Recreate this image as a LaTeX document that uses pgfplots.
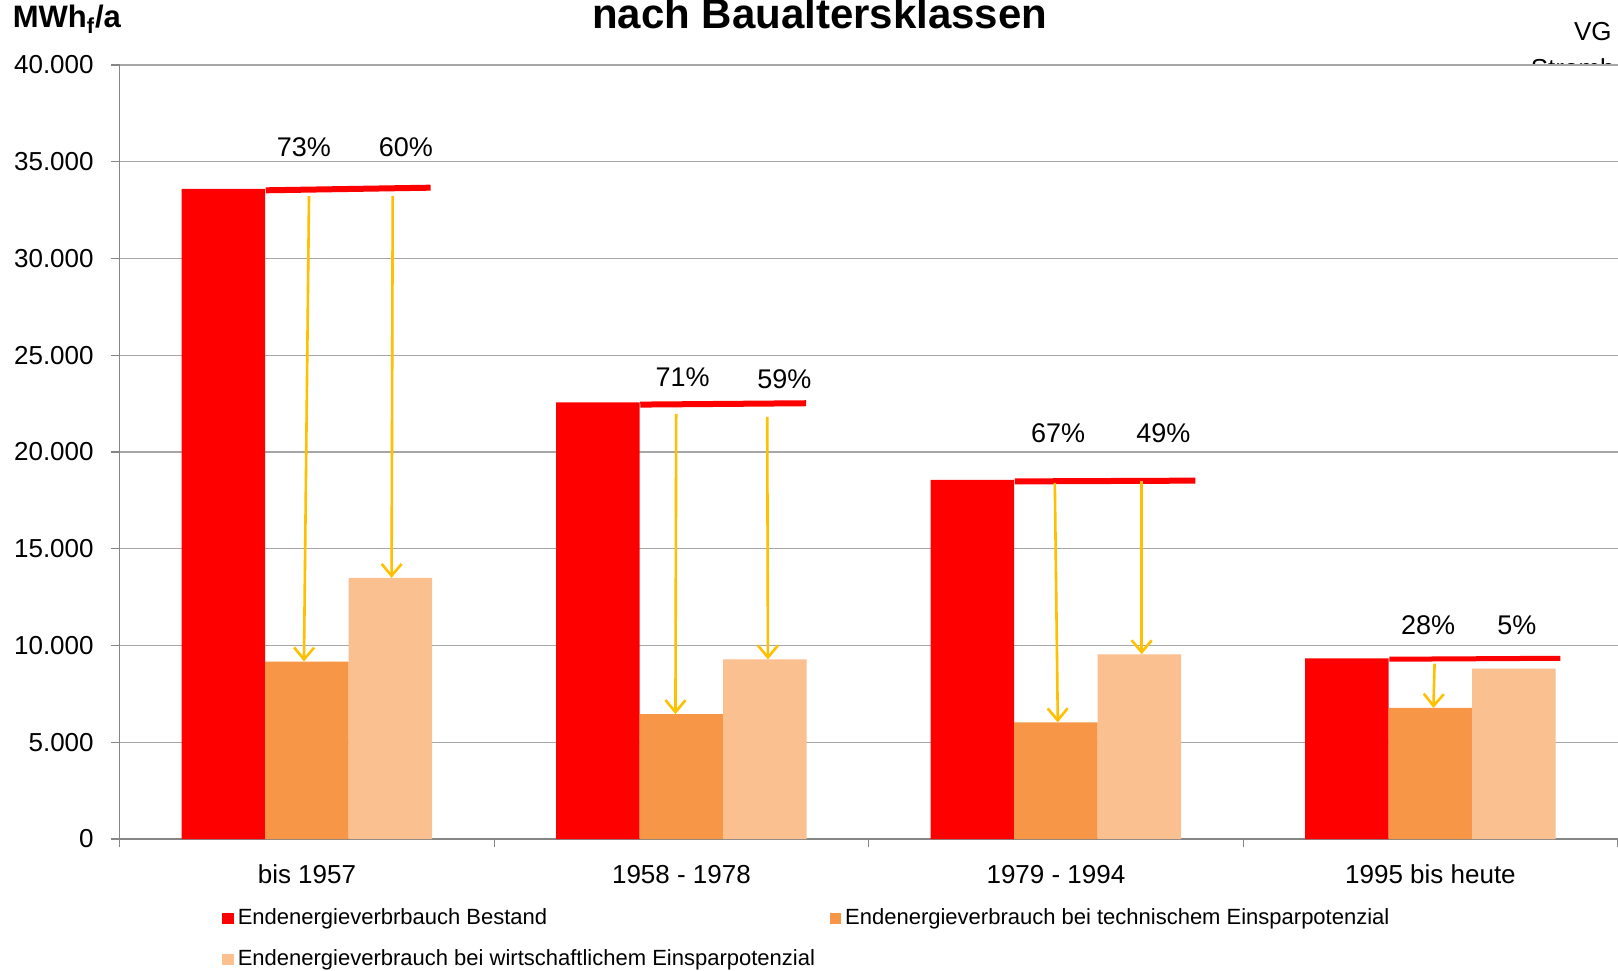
\documentclass[border=0pt]{standalone}
\usepackage{pgfplots}
\pgfplotsset{compat=1.18}
\usepackage{fontspec}
\setmainfont{Liberation Sans}
\usetikzlibrary{arrows.meta}
\definecolor{bestand}{HTML}{FF0000}
\definecolor{tech}{HTML}{F79646}
\definecolor{wirt}{HTML}{FAC090}
\definecolor{arrowy}{HTML}{FFC000}
\definecolor{gridc}{HTML}{A6A6A6}
\definecolor{axc}{HTML}{868686}
\newcommand{\fs}[1]{\fontsize{#1}{#1}\selectfont}
\begin{document}
\begin{tikzpicture}
\path[use as bounding box] (-59.85pt,-65.5pt) rectangle (749.15pt,419.5pt);
\node[anchor=base, font=\fs{13}] at (736.6pt,399pt) {VG};
\node[anchor=base west, font=\fs{13}] at (702pt,380.8pt) {Stromberg};
\begin{axis}[
  at={(0,0)}, anchor=south west,
  scale only axis, width=749pt, height=387pt,
  xmin=-0.5, xmax=3.5, ymin=0, ymax=40000,
  axis background/.style={fill=white},
  axis x line*=bottom, axis y line*=left,
  axis line style={draw=axc, line width=0.6pt},
  ytick={0,5000,...,40000},
  ymajorgrids, grid style={draw=gridc, line width=0.6pt},
  tick align=outside, major tick length=4.5pt,
  ytick style={draw=axc, line width=0.6pt},
  /pgf/number format/assume math mode=true,
  yticklabel style={/pgf/number format/.cd, fixed, 1000 sep={.}, /tikz/.cd, font=\fs{13}, xshift=-5pt},
  scaled y ticks=false,
  xtick={0,1,2,3},
  xticklabels={bis 1957, 1958 - 1978, 1979 - 1994, 1995 bis heute},
  xtick style={draw=none},
  xticklabel style={font=\fs{13}, yshift=-5pt},
  extra x ticks={-0.5,0.5,1.5,2.5,3.5},
  extra x tick labels={},
  extra x tick style={xtick style={draw=axc, line width=0.6pt}, major tick length=4pt, grid=none},
  legend columns=2,
  legend cell align=left,
  legend style={draw=none, fill=none, at={(axis description cs:0.0683,-0.0847)}, anchor=north west,
    font=\fs{11}, row sep=7pt, column sep=0pt, inner sep=0pt},
  legend image code/.code={\fill[#1] (0pt,-2.9pt) rectangle (5.7pt,2.9pt);},
]
\addplot[ybar, bar width=0.223, bar shift=-0.223, fill=bestand, draw=none]
  coordinates {(0,33600) (1,22560) (2,18560) (3,9333)};
\addlegendentry{\makebox[294pt][l]{Endenergieverbrbauch Bestand}}
\addplot[ybar, bar width=0.223, bar shift=0, fill=tech, draw=none]
  coordinates {(0,9173) (1,6453) (2,6027) (3,6773)};
\addlegendentry{Endenergieverbrauch bei technischem Einsparpotenzial}
\addplot[ybar, bar width=0.223, bar shift=0.223, fill=wirt, draw=none]
  coordinates {(0,13493) (1,9280) (2,9547) (3,8800)};
\addlegendentry{\makebox[294pt][l]{Endenergieverbrauch bei wirtschaftlichem Einsparpotenzial}}
% red reference lines
\addplot[forget plot, bestand, line width=3pt, no marks] coordinates {(-0.11,33524) (0.33,33660)};
\addplot[forget plot, bestand, line width=3pt, no marks] coordinates {(0.89,22450) (1.333,22520)};
\addplot[forget plot, bestand, line width=3pt, no marks] coordinates {(1.89,18480) (2.372,18520)};
\addplot[forget plot, bestand, line width=2.5pt, no marks] coordinates {(2.89,9290) (3.347,9340)};
% arrows
\tikzset{yarr/.style={arrowy, line width=1.3pt, -{Straight Barb[length=6pt,width=10pt,line width=1.3pt]}}}
\addplot[forget plot, yarr, no marks] coordinates {(0.0055,33227) (-0.008,9173)};
\addplot[forget plot, yarr, no marks] coordinates {(0.229,33227) (0.226,13493)};
\addplot[forget plot, yarr, no marks] coordinates {(0.986,21973) (0.984,6453)};
\addplot[forget plot, yarr, no marks] coordinates {(1.229,21813) (1.231,9280)};
\addplot[forget plot, yarr, no marks] coordinates {(1.997,18400) (2.005,6027)};
\addplot[forget plot, yarr, no marks] coordinates {(2.229,18507) (2.229,9547)};
\addplot[forget plot, yarr, no marks] coordinates {(3.011,9067) (3.008,6773)};
% percentage labels
\addplot[forget plot, only marks, mark=none, nodes near coords, point meta=explicit symbolic,
  every node near coord/.append style={anchor=center, font=\fs{13.5}, text=black}]
  coordinates {
  (-0.008,35733) [73\%]
  (0.264,35733) [60\%]
  (1.003,23840) [71\%]
  (1.275,23787) [59\%]
  (2.006,20960) [67\%]
  (2.287,20960) [49\%]
  (2.994,11040) [28\%]
  (3.231,11040) [5\%]
  };
\end{axis}
\node[anchor=base, font=\bfseries\fs{21}] at (350pt,405pt) {nach Baualtersklassen};
\node[anchor=base west, inner sep=0pt, font=\bfseries\fs{15.5}] at (-53.65pt,405.6pt) {MWh\textsubscript{f}/a};
\end{tikzpicture}
\end{document}
